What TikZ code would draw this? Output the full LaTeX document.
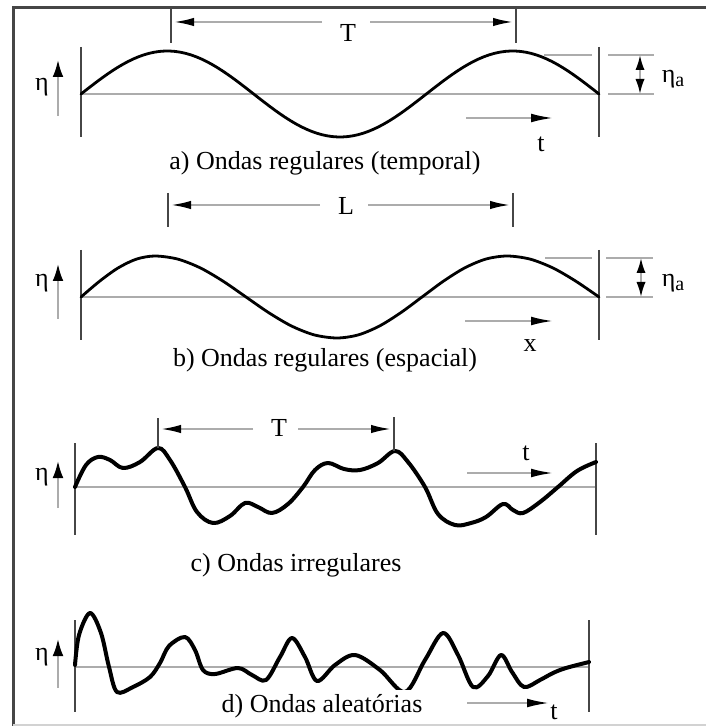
\documentclass[tikz,border=0pt]{standalone}
\usepackage{fontspec}
\setmainfont{Liberation Serif}
\usetikzlibrary{arrows.meta,positioning}

\begin{document}
\begin{tikzpicture}[
    x=0.5pt, y=-0.5pt,
    every node/.style={font=\fontsize{13}{15}\selectfont, inner sep=1pt},
    guide/.style={draw=gray!65, line width=1pt},
    post/.style={draw=gray!55!black, line width=0.9pt},
    wave/.style={draw=black, line width=1.4pt, line join=round, line cap=round},
    thickwave/.style={wave, line width=2pt},
    dirarrow/.style={guide, -{Latex[length=11pt,width=4.4pt,color=black]}},
    dimarrow/.style={guide, -{Latex[length=10pt,width=4.2pt,color=black]}},
    etaarrow/.style={guide, -{Latex[length=8.5pt,width=5.4pt,color=black]}},
    ampmark/.style={guide, {Latex[length=7.5pt,width=4.6pt,color=black]}-{Latex[length=7.5pt,width=4.6pt,color=black]}},
    caption/.style={fill=white, inner sep=2pt}
]
\useasboundingbox (0,0) rectangle (706,726);
% frame
\draw[gray!55!black, line width=1.5pt] (13,726) -- (13,8) -- (706,8);
\draw[gray!35, line width=0.6pt] (13,725) -- (706,725);

% ---------- a) temporal
\draw[guide] (81,94) -- (599,94);
\draw[post] (81,47) -- (81,137);
\draw[post] (599,47) -- (599,137);
\draw[wave] plot[domain=0:540, samples=100, variable=\t] ({81+0.95926*\t}, {94-43*sin(\t)});
% period
\draw[post] (171,9) -- (171,43);
\draw[post] (516,9) -- (516,43);
\node (aT) at (348,33) {T};
\coordinate (aTl) at (174,22);
\coordinate (aTr) at (513,22);
\coordinate (aGl) at (322,22);
\coordinate (aGr) at (370,22);
\draw[dimarrow] (aGl) -- (aTl);
\draw[dimarrow] (aGr) -- (aTr);
% eta
\node (aeta) at (42,87) {η};
\coordinate (aEb) at (58,116);
\coordinate (aEt) at (58,60);
\draw[etaarrow] (aEb) -- (aEt);
% amplitude
\draw[guide] (544,55) -- (592,55);
\draw[guide] (608,55) -- (654,55);
\draw[guide] (608,94) -- (654,94);
\coordinate (aAt) at (640,55);
\coordinate (aAb) at (640,94);
\draw[ampmark] (aAt) -- (aAb);
\node (aamp) at (673,79) {η\raisebox{-2pt}{\fontsize{10}{10}\selectfont a}};
% direction
\coordinate (aDl) at (466,118);
\coordinate (aDr) at (553,118);
\draw[dirarrow] (aDl) -- (aDr);
\node (at) at (541,144) {t};
\node[caption] (acap) at (325,163) {a) Ondas regulares (temporal)};

% ---------- b) espacial
\draw[guide] (81,297) -- (599,297);
\draw[post] (81,250) -- (81,340);
\draw[post] (599,250) -- (599,340);
\draw[wave] plot[smooth, tension=0.5] coordinates {
    (81,297) (99.5,281.3) (118,268) (136.5,259.1) (155,256)
    (177.75,259.1) (200.5,268) (223.25,281.3) (246,297) (268.75,312.7) (291.5,326) (314.25,334.9) (337,338)
    (358.25,334.9) (379.5,326) (400.75,312.7) (422,297) (443.25,281.3) (464.5,268) (485.75,259.1) (507,256)
    (530,259.1) (553,268) (576,281.3) (599,297)};
% wavelength
\draw[post] (168,193) -- (168,227);
\draw[post] (513,193) -- (513,227);
\node (bL) at (346,206) {L};
\coordinate (bLl) at (171,205);
\coordinate (bLr) at (510,205);
\coordinate (bGl) at (320,205);
\coordinate (bGr) at (368,205);
\draw[dimarrow] (bGl) -- (bLl);
\draw[dimarrow] (bGr) -- (bLr);
% eta
\node (beta) at (42,283) {η};
\coordinate (bEb) at (58,319);
\coordinate (bEt) at (58,264);
\draw[etaarrow] (bEb) -- (bEt);
% amplitude
\draw[guide] (545,258) -- (592,258);
\draw[guide] (606,258) -- (653,258);
\draw[guide] (606,297) -- (653,297);
\coordinate (bAt) at (641,258);
\coordinate (bAb) at (641,297);
\draw[ampmark] (bAt) -- (bAb);
\node (bamp) at (673,283) {η\raisebox{-2pt}{\fontsize{10}{10}\selectfont a}};
% direction
\coordinate (bDl) at (465,321);
\coordinate (bDr) at (553,321);
\draw[dirarrow] (bDl) -- (bDr);
\node (bx) at (530,346) {x};
\node[caption] (bcap) at (325,360) {b) Ondas regulares (espacial)};

% ---------- c) irregulares
\draw[guide] (75,487) -- (596,487);
\draw[post] (75,443) -- (75,535);
\draw[post] (596,443) -- (596,535);
\draw[thickwave] plot[smooth, tension=0.6] coordinates {
    (75,487) (86,465) (98,457) (110,460) (123,468) (140,462) (158,448) (170,460)
    (185,487) (197,512) (213,523) (230,516) (245,503) (258,507) (272,513) (288,504)
    (303,487) (315,470) (328,463) (344,469) (360,470) (378,463) (395,451) (408,462)
    (425,487) (438,514) (455,525) (471,523) (486,517) (503,504) (513,510) (523,513)
    (540,502) (558,487) (577,471) (596,462)};
% period
\draw[post] (158,418) -- (158,448);
\draw[post] (394,417) -- (394,451);
\node (cT) at (279,428) {T};
\coordinate (cTl) at (161,429);
\coordinate (cTr) at (391,429);
\coordinate (cGl) at (253,429);
\coordinate (cGr) at (298,429);
\draw[dimarrow] (cGl) -- (cTl);
\draw[dimarrow] (cGr) -- (cTr);
% eta
\node (ceta) at (42,477) {η};
\coordinate (cEb) at (58,508);
\coordinate (cEt) at (58,461);
\draw[etaarrow] (cEb) -- (cEt);
% direction
\node (ct) at (526,453) {t};
\coordinate (cDl) at (467,473);
\coordinate (cDr) at (553,473);
\draw[dirarrow] (cDl) -- (cDr);
\node[caption] (ccap) at (296,565) {c) Ondas irregulares};

% ---------- d) aleatorias
\draw[guide] (75,667) -- (589,667);
\draw[post] (75,620) -- (75,712);
\draw[post] (589,620) -- (589,712);
\draw[thickwave] plot[smooth, tension=0.55] coordinates {
    (75,665) (79,635) (90,613) (101,633) (109,667) (117,692) (133,687) (150,677)
    (160,663) (169,646) (185,637) (195,650) (203,670) (215,674) (238,668) (252,675)
    (266,680) (280,657) (292,638) (305,657) (317,681) (335,665) (355,655) (380,670)
    (405,692) (425,660) (443,633) (458,655) (473,687) (488,676) (501,655) (512,672)
    (524,687) (540,680) (553,673) (566,668) (589,662)};
% eta
\node (deta) at (42,657) {η};
\coordinate (dEb) at (58,688);
\coordinate (dEt) at (58,639);
\draw[etaarrow] (dEb) -- (dEt);
% direction
\coordinate (dDl) at (467,703);
\coordinate (dDr) at (549,703);
\draw[dirarrow] (dDl) -- (dDr);
\node (dt) at (554,712) {t};
\node[caption] (dcap) at (322,706) {d) Ondas aleatórias};
\end{tikzpicture}
\end{document}
